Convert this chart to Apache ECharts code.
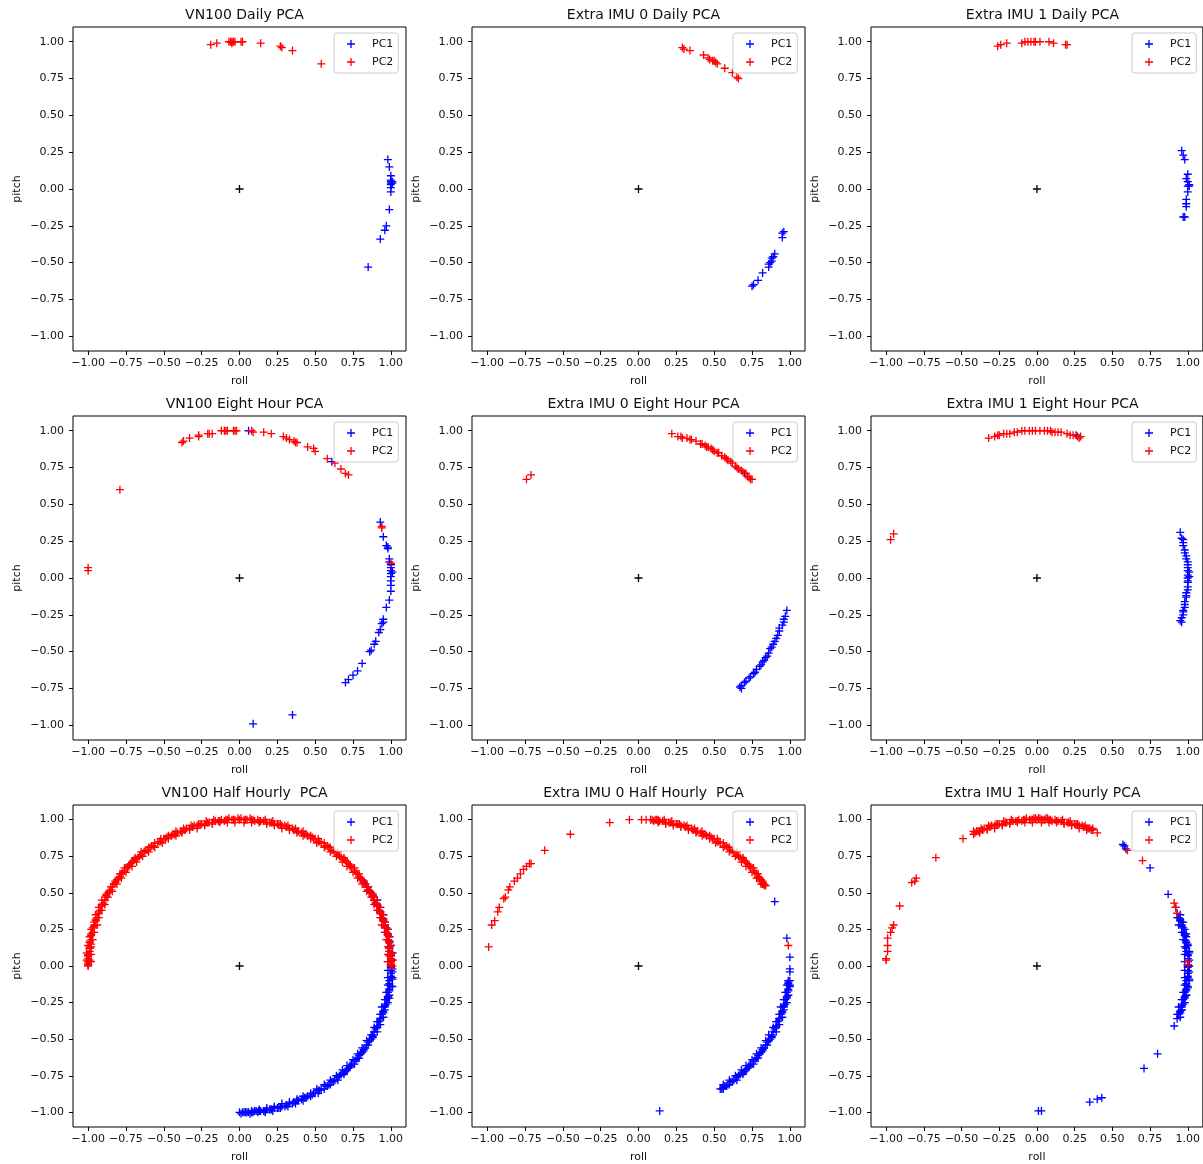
<!DOCTYPE html>
<html><head><meta charset="utf-8">
<script src="https://cdn.jsdelivr.net/npm/echarts@6/dist/echarts.min.js"></script>
<style>html,body{margin:0;padding:0;background:#fff}#c{width:1203px;height:1164px}</style>
</head><body><div id="c"></div>
<script>
const tickValues = [-1, -0.75, -0.5, -0.25, 0, 0.25, 0.5, 0.75, 1];
const panelTitles = [
  'VN100 Daily PCA', 'Extra IMU 0 Daily PCA', 'Extra IMU 1 Daily PCA',
  'VN100 Eight Hour PCA', 'Extra IMU 0 Eight Hour PCA', 'Extra IMU 1 Eight Hour PCA',
  'VN100 Half Hourly  PCA', 'Extra IMU 0 Half Hourly  PCA', 'Extra IMU 1 Half Hourly PCA'
];
const seriesNames = ['PC1', 'PC2'];
const originPoint = [[0, 0]];

const vn100DailyPC1 = [[0.98,0.20],[0.99,0.15],[1.00,0.09],[1.00,0.06],[1.00,0.05],[1.01,0.05],[1.00,0.04],[1.01,0.04],[1.00,0.03],[1.00,0.01],[1.00,-0.02],[0.99,-0.14],[0.97,-0.25],[0.96,-0.28],[0.93,-0.34],[0.85,-0.53]];
const vn100DailyPC2 = [[-0.19,0.98],[-0.15,0.99],[-0.07,1.00],[-0.06,1.00],[-0.05,1.00],[-0.05,0.99],[-0.04,1.00],[-0.03,1.00],[0.01,1.00],[0.02,1.00],[0.14,0.99],[0.27,0.97],[0.28,0.96],[0.35,0.94],[0.54,0.85]];

const imu0DailyPC1 = [[0.96,-0.29],[0.95,-0.30],[0.95,-0.33],[0.90,-0.44],[0.89,-0.46],[0.88,-0.47],[0.88,-0.49],[0.87,-0.50],[0.86,-0.51],[0.86,-0.53],[0.82,-0.57],[0.79,-0.62],[0.76,-0.65],[0.75,-0.66]];
const imu0DailyPC2 = [[0.29,0.96],[0.30,0.95],[0.34,0.94],[0.43,0.91],[0.46,0.89],[0.47,0.88],[0.49,0.87],[0.50,0.87],[0.51,0.86],[0.52,0.85],[0.57,0.82],[0.62,0.79],[0.65,0.76],[0.66,0.75]];

const imu1DailyPC1 = [[0.96,0.26],[0.97,0.23],[0.98,0.20],[1.00,0.10],[0.99,0.07],[1.00,0.05],[1.01,0.03],[1.00,0.02],[1.01,0.02],[1.00,-0.02],[0.99,-0.07],[0.99,-0.10],[0.99,-0.12],[0.98,-0.19],[0.97,-0.19]];
const imu1DailyPC2 = [[-0.26,0.97],[-0.24,0.98],[-0.20,0.99],[-0.10,0.99],[-0.08,1.00],[-0.06,1.00],[-0.04,1.00],[-0.02,1.00],[-0.01,1.00],[0.02,1.00],[0.08,1.00],[0.11,0.99],[0.19,0.98],[0.20,0.98]];

const vn100EightPC1 = [[0.06,1.00],[0.61,0.79],[0.93,0.38],[0.95,0.28],[0.97,0.22],[0.98,0.21],[0.98,0.20],[0.99,0.13],[0.99,0.11],[1.00,0.09],[1.00,0.07],[1.00,0.05],[1.01,0.04],[1.00,0.03],[1.00,0.01],[1.00,-0.02],[1.00,-0.05],[1.00,-0.09],[0.99,-0.15],[0.97,-0.20],[0.95,-0.28],[0.95,-0.30],[0.94,-0.31],[0.93,-0.35],[0.92,-0.37],[0.90,-0.43],[0.89,-0.45],[0.87,-0.49],[0.86,-0.50],[0.81,-0.58],[0.78,-0.63],[0.75,-0.66],[0.72,-0.69],[0.70,-0.71],[0.35,-0.93],[0.09,-0.99]];
const vn100EightPC2 = [[-1.00,0.07],[-1.00,0.05],[-0.79,0.60],[-0.38,0.92],[-0.37,0.93],[-0.33,0.95],[-0.27,0.96],[-0.27,0.97],[-0.21,0.98],[-0.20,0.98],[-0.18,0.98],[-0.12,1.00],[-0.10,1.00],[-0.09,1.00],[-0.08,1.00],[-0.04,1.00],[-0.03,1.00],[-0.02,1.00],[0.08,1.00],[0.09,0.99],[0.16,0.99],[0.21,0.98],[0.29,0.96],[0.31,0.95],[0.33,0.94],[0.36,0.93],[0.37,0.92],[0.38,0.92],[0.45,0.89],[0.49,0.88],[0.50,0.86],[0.58,0.81],[0.63,0.78],[0.67,0.74],[0.70,0.71],[0.72,0.70],[0.94,0.35],[0.94,0.34],[1.00,0.10]];

const imu0EightPC1 = [[0.70,0.71],[0.98,-0.22],[0.97,-0.26],[0.96,-0.28],[0.96,-0.30],[0.95,-0.32],[0.93,-0.34],[0.93,-0.36],[0.92,-0.39],[0.91,-0.41],[0.90,-0.43],[0.89,-0.45],[0.88,-0.47],[0.87,-0.48],[0.86,-0.51],[0.85,-0.53],[0.84,-0.54],[0.83,-0.56],[0.82,-0.57],[0.81,-0.59],[0.80,-0.60],[0.78,-0.62],[0.77,-0.64],[0.76,-0.65],[0.74,-0.67],[0.73,-0.68],[0.71,-0.70],[0.70,-0.71],[0.68,-0.73],[0.67,-0.74],[0.68,-0.75]];
const imu0EightPC2 = [[-0.74,0.67],[-0.71,0.70],[0.22,0.98],[0.26,0.96],[0.28,0.96],[0.29,0.95],[0.32,0.95],[0.34,0.94],[0.35,0.94],[0.38,0.93],[0.41,0.91],[0.42,0.91],[0.44,0.90],[0.45,0.89],[0.46,0.89],[0.48,0.88],[0.49,0.87],[0.50,0.86],[0.52,0.85],[0.53,0.85],[0.55,0.83],[0.57,0.82],[0.58,0.81],[0.59,0.80],[0.61,0.79],[0.62,0.78],[0.64,0.76],[0.65,0.75],[0.66,0.74],[0.68,0.73],[0.69,0.72],[0.71,0.71],[0.72,0.69],[0.73,0.68],[0.74,0.67],[0.75,0.67]];

const imu1EightPC1 = [[0.26,0.97],[0.95,0.31],[0.96,0.27],[0.97,0.26],[0.97,0.24],[0.97,0.22],[0.98,0.19],[0.98,0.17],[0.99,0.15],[0.99,0.13],[1.00,0.11],[1.00,0.09],[1.00,0.07],[1.00,0.05],[1.01,0.04],[1.00,0.02],[1.01,0.01],[1.00,0.00],[1.00,-0.02],[1.00,-0.03],[1.00,-0.06],[1.00,-0.08],[0.99,-0.10],[0.99,-0.12],[0.99,-0.13],[0.98,-0.16],[0.98,-0.18],[0.98,-0.20],[0.97,-0.22],[0.97,-0.23],[0.97,-0.25],[0.96,-0.27],[0.95,-0.29],[0.96,-0.30]];
const imu1EightPC2 = [[-0.97,0.26],[-0.95,0.30],[-0.32,0.95],[-0.28,0.96],[-0.26,0.97],[-0.25,0.97],[-0.22,0.98],[-0.20,0.98],[-0.18,0.98],[-0.15,0.99],[-0.13,0.99],[-0.10,1.00],[-0.08,1.00],[-0.05,1.00],[-0.03,1.00],[-0.01,1.00],[0.02,1.00],[0.05,1.00],[0.07,1.00],[0.09,1.00],[0.10,0.99],[0.12,0.99],[0.14,0.99],[0.16,0.99],[0.20,0.98],[0.22,0.97],[0.24,0.97],[0.27,0.96],[0.29,0.96],[0.28,0.95]];

const vn100HalfPC1 = [[0.81,0.59],[0.84,0.54],[0.87,0.50],[0.89,0.45],[0.91,0.41],[0.93,0.36],[0.95,0.31],[0.97,0.26],[0.98,0.21],[0.99,0.16],[0.99,0.10],[1.00,0.05],[1.00,0.00],[1.00,-0.05],[0.99,-0.10],[0.99,-0.16],[0.98,-0.21],[0.97,-0.26],[0.95,-0.31],[0.93,-0.36],[0.91,-0.41],[0.89,-0.45],[0.87,-0.50],[0.84,-0.54],[0.81,-0.59],[0.78,-0.63],[0.74,-0.67],[0.71,-0.71],[0.67,-0.74],[0.63,-0.78],[0.59,-0.81],[0.54,-0.84],[0.50,-0.87],[0.45,-0.89],[0.41,-0.91],[0.36,-0.93],[0.31,-0.95],[0.26,-0.97],[0.21,-0.98],[0.16,-0.99],[0.10,-0.99],[0.05,-1.00],[0.00,-1.00],
  [0.98,0.03],[0.98,-0.03],[0.98,-0.08],[0.98,-0.13],[0.97,-0.18],[0.96,-0.23],[0.94,-0.28],[0.93,-0.33],[0.91,-0.38],[0.89,-0.42],[0.87,-0.47],[0.84,-0.51],[0.81,-0.56],[0.78,-0.60],[0.75,-0.64],[0.71,-0.68],[0.68,-0.71],[0.64,-0.75],[0.60,-0.78],[0.56,-0.81],[0.51,-0.84],[0.47,-0.87],[0.42,-0.89],[0.38,-0.91],[0.33,-0.93],[0.28,-0.94],[0.23,-0.96],[0.18,-0.97],[0.13,-0.98],[0.08,-0.99],
  [0.02,-1.00],[0.04,-1.00],[0.06,-1.00],[0.08,-1.00],[0.11,-0.99],[0.13,-0.99],[0.17,-0.99],[0.20,-0.98],[1.01,-0.02],[1.01,-0.08],[1.01,-0.14],[0.99,-0.22],
  [1.00,0.01],[1.00,0.07],[0.99,0.12],[0.99,0.17],[0.98,0.22],[0.96,0.27],[0.95,0.32],[0.93,0.37],[0.91,0.42],[0.88,0.47],[0.86,0.51],[0.83,0.56],
  [1.01,0.04],[1.01,0.09],[1.00,0.14],[0.99,0.20],[0.98,0.25],[0.96,0.30],[0.95,0.35],[0.93,0.40],[0.91,0.45],[0.88,0.49],[0.85,0.54],[0.82,0.58],
  [1.00,-0.01],[1.00,-0.07],[0.99,-0.12],[0.99,-0.17],[0.98,-0.22],[0.96,-0.27],[0.95,-0.32],[0.93,-0.37],[0.91,-0.42],[0.88,-0.47],[0.86,-0.51],[0.83,-0.56],[0.80,-0.60],[0.77,-0.64],[0.73,-0.68],[0.70,-0.72],[0.66,-0.75],[0.62,-0.79],[0.58,-0.82],[0.53,-0.85],[0.49,-0.87],[0.44,-0.90],[0.39,-0.92],[0.35,-0.94],[0.30,-0.96],[0.25,-0.97],[0.20,-0.98],[0.14,-0.99],[0.09,-1.00],[0.04,-1.00],
  [1.01,-0.04],[1.01,-0.09],[1.00,-0.14],[0.99,-0.20],[0.98,-0.25],[0.96,-0.30],[0.95,-0.35],[0.93,-0.40],[0.91,-0.45],[0.88,-0.49],[0.85,-0.54],[0.82,-0.58],[0.79,-0.63],[0.76,-0.67],[0.72,-0.70],[0.69,-0.74],[0.65,-0.78],[0.60,-0.81],[0.56,-0.84],[0.52,-0.87],[0.47,-0.89],[0.42,-0.92],[0.37,-0.94],[0.32,-0.96],[0.27,-0.97],[0.22,-0.99],[0.17,-1.00],[0.12,-1.00],[0.07,-1.01],[0.01,-1.01],
  [1.00,0.03],[1.00,0.08],[0.99,0.13],[0.98,0.18],[0.97,0.23],[0.96,0.28],[0.94,0.33],[0.92,0.38],[0.90,0.43],[0.88,0.48],[0.85,0.52],[0.82,0.57],
  [1.00,-0.03],[1.00,-0.08],[0.99,-0.13],[0.98,-0.18],[0.97,-0.23],[0.96,-0.28],[0.94,-0.33],[0.92,-0.38],[0.90,-0.43],[0.88,-0.48],[0.85,-0.52],[0.82,-0.57],[0.79,-0.61],[0.76,-0.65],[0.73,-0.69],[0.69,-0.73],[0.65,-0.76],[0.61,-0.79],[0.57,-0.82],[0.52,-0.85],[0.48,-0.88],[0.43,-0.90],[0.38,-0.92],[0.33,-0.94],[0.28,-0.96],[0.23,-0.97],[0.18,-0.98],[0.13,-0.99],[0.08,-1.00],[0.03,-1.00]];
const vn100HalfPC2 = [[-1.00,0.00],[-1.00,0.05],[-0.99,0.10],[-0.99,0.16],[-0.98,0.21],[-0.97,0.26],[-0.95,0.31],[-0.93,0.36],[-0.91,0.41],[-0.89,0.45],[-0.87,0.50],[-0.84,0.54],[-0.81,0.59],[-0.78,0.63],[-0.74,0.67],[-0.71,0.71],[-0.67,0.74],[-0.63,0.78],[-0.59,0.81],[-0.54,0.84],[-0.50,0.87],[-0.45,0.89],[-0.41,0.91],[-0.36,0.93],[-0.31,0.95],[-0.26,0.97],[-0.21,0.98],[-0.16,0.99],[-0.10,0.99],[-0.05,1.00],[0.00,1.00],[0.05,1.00],[0.10,0.99],[0.16,0.99],[0.21,0.98],[0.26,0.97],[0.31,0.95],[0.36,0.93],[0.41,0.91],[0.45,0.89],[0.50,0.87],[0.54,0.84],[0.59,0.81],[0.63,0.78],[0.67,0.74],[0.71,0.71],[0.74,0.67],[0.78,0.63],[0.81,0.59],[0.84,0.54],[0.87,0.50],[0.89,0.45],[0.91,0.41],[0.93,0.36],[0.95,0.31],[0.97,0.26],[0.98,0.21],[0.99,0.16],[0.99,0.10],[1.00,0.05],[1.00,0.00],
  [-0.98,0.03],[-0.98,0.08],[-0.98,0.13],[-0.97,0.18],[-0.96,0.23],[-0.94,0.28],[-0.93,0.33],[-0.91,0.38],[-0.89,0.42],[-0.87,0.47],[-0.84,0.51],[-0.81,0.56],[-0.78,0.60],[-0.75,0.64],[-0.71,0.68],[-0.68,0.71],[-0.64,0.75],[-0.60,0.78],[-0.56,0.81],[-0.51,0.84],[-0.47,0.87],[-0.42,0.89],[-0.38,0.91],[-0.33,0.93],[-0.28,0.94],[-0.23,0.96],[-0.18,0.97],[-0.13,0.98],[-0.08,0.98],[-0.03,0.98],[0.03,0.98],[0.08,0.98],[0.13,0.98],[0.18,0.97],[0.23,0.96],[0.28,0.94],[0.33,0.93],[0.38,0.91],[0.42,0.89],[0.47,0.87],[0.51,0.84],[0.56,0.81],[0.60,0.78],[0.64,0.75],[0.68,0.71],[0.71,0.68],[0.75,0.64],[0.78,0.60],[0.81,0.56],[0.84,0.51],[0.87,0.47],[0.89,0.42],[0.91,0.38],[0.93,0.33],[0.94,0.28],[0.96,0.23],[0.97,0.18],[0.98,0.13],[0.98,0.08],[0.98,0.03],
  [-1.00,0.01],[-1.00,0.02],[-0.99,0.04],[-1.00,0.07],[-0.99,0.12],[-0.98,0.15],[1.00,0.02],[1.00,0.03],[0.99,0.07],[1.01,0.00],[1.01,0.04],
  [1.00,0.01],[1.00,0.07],[0.99,0.12],[0.99,0.17],[0.98,0.22],[0.96,0.27],[0.95,0.32],[0.93,0.37],[0.91,0.42],[0.88,0.47],[0.86,0.51],[0.83,0.56],[0.80,0.60],[0.77,0.64],[0.73,0.68],[0.70,0.72],[0.66,0.75],[0.62,0.79],[0.58,0.82],[0.53,0.85],[0.49,0.87],[0.44,0.90],[0.39,0.92],[0.35,0.94],[0.30,0.96],[0.25,0.97],[0.20,0.98],[0.14,0.99],[0.09,1.00],[0.04,1.00],
  [1.01,0.04],[1.01,0.09],[1.00,0.14],[0.99,0.20],[0.98,0.25],[0.96,0.30],[0.95,0.35],[0.93,0.40],[0.91,0.45],[0.88,0.49],[0.85,0.54],[0.82,0.58],[0.79,0.63],[0.76,0.67],[0.72,0.70],[0.69,0.74],[0.65,0.78],[0.60,0.81],[0.56,0.84],[0.52,0.87],[0.47,0.89],[0.42,0.92],[0.37,0.94],[0.32,0.96],[0.27,0.97],[0.22,0.99],[0.17,1.00],[0.12,1.00],[0.07,1.01],[0.01,1.01],
  [-1.00,0.01],[-1.00,0.07],[-0.99,0.12],[-0.99,0.17],[-0.98,0.22],[-0.96,0.27],[-0.95,0.32],[-0.93,0.37],[-0.91,0.42],[-0.88,0.47],[-0.86,0.51],[-0.83,0.56],[-0.80,0.60],[-0.77,0.64],[-0.73,0.68],[-0.70,0.72],[-0.66,0.75],[-0.62,0.79],[-0.58,0.82],[-0.53,0.85],[-0.49,0.87],[-0.44,0.90],[-0.39,0.92],[-0.35,0.94],[-0.30,0.96],[-0.25,0.97],[-0.20,0.98],[-0.14,0.99],[-0.09,1.00],[-0.04,1.00],
  [-1.01,0.04],[-1.01,0.09],[-1.00,0.14],[-0.99,0.20],[-0.98,0.25],[-0.96,0.30],[-0.95,0.35],[-0.93,0.40],[-0.91,0.45],[-0.88,0.49],[-0.85,0.54],[-0.82,0.58],[-0.79,0.63],[-0.76,0.67],[-0.72,0.70],[-0.69,0.74],[-0.65,0.78],[-0.60,0.81],[-0.56,0.84],[-0.52,0.87],[-0.47,0.89],[-0.42,0.92],[-0.37,0.94],[-0.32,0.96],[-0.27,0.97],[-0.22,0.99],[-0.17,1.00],[-0.12,1.00],[-0.07,1.01],[-0.01,1.01],
  [1.00,0.03],[1.00,0.08],[0.99,0.13],[0.98,0.18],[0.97,0.23],[0.96,0.28],[0.94,0.33],[0.92,0.38],[0.90,0.43],[0.88,0.48],[0.85,0.52],[0.82,0.57],[0.79,0.61],[0.76,0.65],[0.73,0.69],[0.69,0.73],[0.65,0.76],[0.61,0.79],[0.57,0.82],[0.52,0.85],[0.48,0.88],[0.43,0.90],[0.38,0.92],[0.33,0.94],[0.28,0.96],[0.23,0.97],[0.18,0.98],[0.13,0.99],[0.08,1.00],[0.03,1.00],
  [-1.00,0.03],[-1.00,0.08],[-0.99,0.13],[-0.98,0.18],[-0.97,0.23],[-0.96,0.28],[-0.94,0.33],[-0.92,0.38],[-0.90,0.43],[-0.88,0.48],[-0.85,0.52],[-0.82,0.57],[-0.79,0.61],[-0.76,0.65],[-0.73,0.69],[-0.69,0.73],[-0.65,0.76],[-0.61,0.79],[-0.57,0.82],[-0.52,0.85],[-0.48,0.88],[-0.43,0.90],[-0.38,0.92],[-0.33,0.94],[-0.28,0.96],[-0.23,0.97],[-0.18,0.98],[-0.13,0.99],[-0.08,1.00],[-0.03,1.00]];

const imu0HalfPC1 = [[0.90,0.44],[0.98,0.19],[1.00,0.06],[1.00,-0.02],[1.00,-0.04],[0.14,-0.99],
  [0.99,-0.10],[0.99,-0.16],[0.98,-0.21],[0.97,-0.26],[0.95,-0.31],[0.93,-0.36],[0.91,-0.41],[0.89,-0.45],[0.87,-0.50],[0.84,-0.54],[0.81,-0.59],[0.78,-0.63],[0.74,-0.67],[0.71,-0.71],[0.67,-0.74],[0.63,-0.78],[0.59,-0.81],[0.55,-0.84],
  [0.98,-0.13],[0.97,-0.18],[0.96,-0.23],[0.94,-0.28],[0.93,-0.33],[0.91,-0.38],[0.89,-0.42],[0.86,-0.47],[0.84,-0.51],[0.81,-0.56],[0.78,-0.60],[0.75,-0.64],[0.71,-0.68],[0.68,-0.71],[0.64,-0.75],[0.60,-0.78],[0.56,-0.81],
  [1.00,-0.10],[0.99,-0.11],[1.00,-0.13],[0.54,-0.84],[0.56,-0.83],
  [0.99,-0.12],[0.99,-0.17],[0.98,-0.22],[0.96,-0.27],[0.95,-0.32],[0.93,-0.37],[0.91,-0.42],[0.88,-0.47],[0.86,-0.51],[0.83,-0.56],[0.80,-0.60],[0.77,-0.64],[0.73,-0.68],[0.70,-0.72],[0.66,-0.75],[0.62,-0.79],[0.58,-0.82],
  [1.00,-0.14],[0.99,-0.20],[0.98,-0.25],[0.96,-0.30],[0.95,-0.35],[0.93,-0.40],[0.91,-0.45],[0.88,-0.49],[0.85,-0.54],[0.82,-0.58],[0.79,-0.63],[0.76,-0.67],[0.72,-0.70],[0.69,-0.74],[0.65,-0.78],[0.60,-0.81],[0.56,-0.84],
  [0.99,-0.13],[0.98,-0.18],[0.97,-0.23],[0.96,-0.28],[0.94,-0.33],[0.92,-0.38],[0.90,-0.43],[0.88,-0.48],[0.85,-0.52],[0.82,-0.57],[0.79,-0.61],[0.76,-0.65],[0.73,-0.69],[0.69,-0.73],[0.65,-0.76],[0.61,-0.79],[0.57,-0.82]];
const imu0HalfPC2 = [[-0.99,0.13],[-0.97,0.28],[-0.95,0.31],[-0.93,0.37],[-0.92,0.40],[-0.89,0.46],[-0.88,0.47],[-0.86,0.52],[-0.85,0.54],[-0.82,0.58],[-0.80,0.60],[-0.78,0.63],[-0.76,0.66],[-0.74,0.68],[-0.72,0.70],[-0.71,0.70],[-0.62,0.79],[-0.45,0.90],[-0.19,0.98],[-0.06,1.00],[0.02,1.00],[0.05,1.00],[0.99,0.14],
  [0.10,0.99],[0.16,0.99],[0.21,0.98],[0.26,0.97],[0.31,0.95],[0.36,0.93],[0.41,0.91],[0.45,0.89],[0.50,0.87],[0.54,0.84],[0.59,0.81],[0.63,0.78],[0.67,0.74],[0.71,0.71],[0.74,0.67],[0.78,0.63],[0.81,0.59],[0.84,0.55],
  [0.13,0.98],[0.18,0.97],[0.23,0.96],[0.28,0.95],[0.33,0.93],[0.38,0.91],[0.42,0.89],[0.47,0.87],[0.51,0.84],[0.56,0.81],[0.60,0.78],[0.64,0.75],[0.68,0.71],[0.71,0.68],[0.75,0.64],[0.78,0.60],[0.81,0.56],
  [0.08,1.00],[0.11,1.00],[0.13,1.00],[0.82,0.56],[0.83,0.55],[0.79,0.60],
  [0.83,0.56],[0.80,0.60],[0.77,0.64],[0.73,0.68],[0.70,0.72],[0.66,0.75],[0.62,0.79],[0.58,0.82],[0.53,0.85],[0.49,0.87],[0.44,0.90],[0.39,0.92],[0.35,0.94],[0.30,0.96],[0.25,0.97],[0.20,0.98],[0.14,0.99],[0.09,1.00],
  [0.82,0.58],[0.79,0.63],[0.76,0.67],[0.72,0.70],[0.69,0.74],[0.65,0.78],[0.60,0.81],[0.56,0.84],[0.52,0.87],[0.47,0.89],[0.42,0.92],[0.37,0.94],[0.32,0.96],[0.27,0.97],[0.22,0.99],[0.17,1.00],[0.12,1.00],
  [0.82,0.57],[0.79,0.61],[0.76,0.65],[0.73,0.69],[0.69,0.73],[0.65,0.76],[0.61,0.79],[0.57,0.82],[0.52,0.85],[0.48,0.88],[0.43,0.90],[0.38,0.92],[0.33,0.94],[0.28,0.96],[0.23,0.97],[0.18,0.98],[0.13,0.99]];

const imu1HalfPC1 = [[0.57,0.83],[0.58,0.82],[0.59,0.80],[0.75,0.67],[0.87,0.49],[0.92,0.40],[0.91,-0.41],[0.80,-0.60],[0.71,-0.70],[0.43,-0.90],[0.40,-0.91],[0.35,-0.93],[0.01,-0.99],[0.03,-0.99],
  [0.93,0.36],[0.95,0.31],[0.97,0.26],[0.98,0.21],[0.99,0.16],[0.99,0.10],[1.00,0.05],[1.00,0.00],[1.00,-0.05],[0.99,-0.10],[0.99,-0.16],[0.98,-0.21],[0.97,-0.26],[0.95,-0.31],[0.93,-0.36],
  [0.93,0.33],[0.94,0.28],[0.96,0.23],[0.97,0.18],[0.98,0.13],[0.98,0.08],[0.98,0.03],[0.98,-0.03],[0.98,-0.08],[0.98,-0.13],[0.97,-0.18],[0.96,-0.23],[0.94,-0.28],[0.93,-0.33],
  [1.01,0.10],[1.01,0.00],[1.01,-0.10],[1.00,0.15],[1.00,-0.15],[0.99,0.22],[0.99,-0.20],[0.97,0.30],[0.96,-0.30],
  [1.00,0.01],[1.00,0.07],[0.99,0.12],[0.99,0.17],[0.98,0.22],[0.96,0.27],[0.95,0.32],[1.00,-0.01],[1.00,-0.07],[0.99,-0.12],[0.99,-0.17],[0.98,-0.22],[0.96,-0.27],[0.95,-0.32],
  [1.01,0.04],[1.01,0.09],[1.00,0.14],[0.99,0.20],[0.98,0.25],[0.96,0.30],[0.95,0.35],[1.01,-0.04],[1.01,-0.09],[1.00,-0.14],[0.99,-0.20],[0.98,-0.25],[0.96,-0.30],[0.95,-0.35],
  [1.00,0.03],[1.00,0.08],[0.99,0.13],[0.98,0.18],[0.97,0.23],[0.96,0.28],[0.94,0.33],[1.00,-0.03],[1.00,-0.08],[0.99,-0.13],[0.98,-0.18],[0.97,-0.23],[0.96,-0.28],[0.94,-0.33]];
const imu1HalfPC2 = [[0.40,0.91],[-0.49,0.87],[-0.67,0.74],[-0.83,0.57],[-0.81,0.58],[-0.80,0.60],[-0.91,0.41],[-0.95,0.28],[-0.96,0.26],[-0.97,0.23],[-0.99,0.19],[-0.99,0.14],[-0.99,0.10],[-1.00,0.05],[-1.00,0.04],[0.60,0.79],[0.70,0.72],[0.91,0.43],[0.92,0.40],[0.93,0.36],[1.00,0.03],[1.00,0.01],
  [-0.41,0.91],[-0.36,0.93],[-0.31,0.95],[-0.26,0.97],[-0.21,0.98],[-0.16,0.99],[-0.10,0.99],[-0.05,1.00],[0.00,1.00],[0.05,1.00],[0.10,0.99],[0.16,0.99],[0.21,0.98],[0.26,0.97],[0.31,0.95],[0.36,0.93],
  [-0.38,0.91],[-0.33,0.93],[-0.28,0.94],[-0.23,0.96],[-0.18,0.97],[-0.13,0.98],[-0.08,0.98],[-0.03,0.98],[0.03,0.98],[0.08,0.98],[0.13,0.98],[0.18,0.97],[0.23,0.96],[0.28,0.94],[0.33,0.93],
  [-0.42,0.90],[-0.40,0.92],[0.37,0.93],[0.34,0.94],[0.02,1.01],[-0.02,1.01],[0.06,1.01],
  [0.35,0.94],[0.30,0.96],[0.25,0.97],[0.20,0.98],[0.14,0.99],[0.09,1.00],[0.04,1.00],
  [0.37,0.94],[0.32,0.96],[0.27,0.97],[0.22,0.99],[0.17,1.00],[0.12,1.00],[0.07,1.01],[0.01,1.01],
  [-0.39,0.92],[-0.35,0.94],[-0.30,0.96],[-0.25,0.97],[-0.20,0.98],[-0.14,0.99],[-0.09,1.00],[-0.04,1.00],
  [-0.42,0.92],[-0.37,0.94],[-0.32,0.96],[-0.27,0.97],[-0.22,0.99],[-0.17,1.00],[-0.12,1.00],[-0.07,1.01],[-0.01,1.01],
  [0.33,0.94],[0.28,0.96],[0.23,0.97],[0.18,0.98],[0.13,0.99],[0.08,1.00],[0.03,1.00],
  [-0.38,0.92],[-0.33,0.94],[-0.28,0.96],[-0.23,0.97],[-0.18,0.98],[-0.13,0.99],[-0.08,1.00],[-0.03,1.00]];

const panelPC1 = [vn100DailyPC1, imu0DailyPC1, imu1DailyPC1, vn100EightPC1, imu0EightPC1, imu1EightPC1, vn100HalfPC1, imu0HalfPC1, imu1HalfPC1];
const panelPC2 = [vn100DailyPC2, imu0DailyPC2, imu1DailyPC2, vn100EightPC2, imu0EightPC2, imu1EightPC2, vn100HalfPC2, imu0HalfPC2, imu1HalfPC2];

const colLeft = [73, 472, 871];
const rowTop = [27, 416, 805];
const gridW = 333, gridH = 324;
const plus = 'path://M-0.65,-4H0.65V-0.65H4V0.65H0.65V4H-0.65V0.65H-4V-0.65H-0.65Z';
const font = 'DejaVu Sans';
const fmt = v => (v < 0 ? '\u2212' : '') + Math.abs(v).toFixed(2);

const grids = [], xAxes = [], yAxes = [], series = [], titles = [], legends = [];
for (let i = 0; i < 9; i++) {
  const c = i % 3, r = Math.floor(i / 3);
  const L = colLeft[c], T = rowTop[r];
  grids.push({left: L, top: T, width: gridW, height: gridH, show: true, borderColor: '#000', borderWidth: 1, backgroundColor: '#fff'});
  const axisCommon = {
    gridIndex: i, type: 'value', min: -1.1, max: 1.1,
    splitLine: {show: false}, axisLine: {show: false, onZero: false},
    axisTick: {show: true, inside: false, length: 4, lineStyle: {color: '#000', width: 1}, customValues: tickValues},
    axisLabel: {customValues: tickValues, formatter: fmt, fontFamily: font, fontSize: 11, color: '#111'},
    nameLocation: 'middle', nameTextStyle: {fontFamily: font, fontSize: 11, color: '#111'}
  };
  xAxes.push(Object.assign({}, axisCommon, {position: 'bottom', name: 'roll', nameGap: 25,
    axisLabel: Object.assign({}, axisCommon.axisLabel, {margin: 7})}));
  yAxes.push(Object.assign({}, axisCommon, {position: 'left', name: 'pitch', nameGap: 50,
    axisLabel: Object.assign({}, axisCommon.axisLabel, {margin: 9})}));
  titles.push({text: panelTitles[i], left: L + gridW / 2, top: T - 24, textAlign: 'center',
    textStyle: {fontFamily: font, fontSize: 14, fontWeight: 'normal', color: '#111'}});
  legends.push({
    left: L + gridW - 72, top: T + 6, orient: 'vertical', selectedMode: false,
    padding: [4, 5, 4, 13], itemWidth: 8, itemHeight: 8, itemGap: 4,
    borderColor: '#ccc', borderWidth: 1, borderRadius: 3, backgroundColor: 'rgba(255,255,255,0.8)',
    textStyle: {fontFamily: font, fontSize: 11, color: '#111', lineHeight: 14, padding: [0, 0, 0, 12]},
    data: seriesNames.map(n => ({name: n, icon: plus}))
  });
  const sym = {type: 'scatter', xAxisIndex: i, yAxisIndex: i, symbol: plus, symbolSize: 8, silent: true, animation: false, large: false};
  series.push(Object.assign({}, sym, {name: 'origin', data: originPoint, itemStyle: {color: '#000', opacity: 1}}));
  series.push(Object.assign({}, sym, {name: 'PC1', data: panelPC1[i], itemStyle: {color: '#0000ff', opacity: 1}}));
  series.push(Object.assign({}, sym, {name: 'PC2', data: panelPC2[i], itemStyle: {color: '#ff0000', opacity: 1}}));
}

const chart = echarts.init(document.getElementById('c'), null, {renderer: 'canvas'});
chart.setOption({
  backgroundColor: '#fff', animation: false,
  title: titles, grid: grids, xAxis: xAxes, yAxis: yAxes, legend: legends, series: series
});
</script></body></html>
